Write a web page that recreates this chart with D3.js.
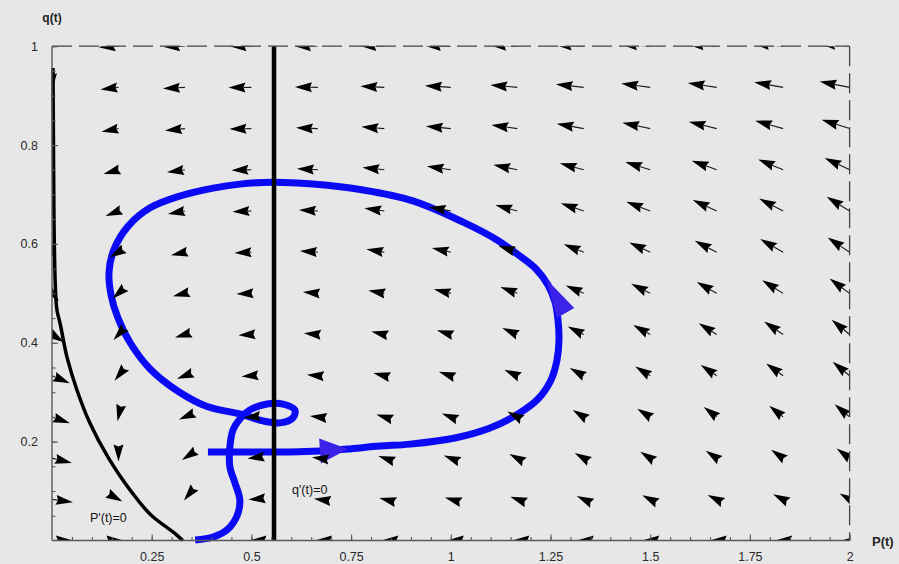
<!DOCTYPE html>
<html>
<head>
<meta charset="utf-8">
<script src="https://cdn.jsdelivr.net/npm/d3@7"></script>
<style>
  body { margin: 0; background: #e7e7e7; }
  svg { display: block; }
  text { font-family: "Liberation Sans", Arial, sans-serif; }
</style>
</head>
<body>
<svg id="chart" width="899" height="564"></svg>
<script>
// ---- data ---------------------------------------------------------------
// grid of the direction field
const pGrid = [0, 0.1667, 0.3333, 0.5, 0.6667, 0.8333, 1, 1.1667, 1.3333, 1.5, 1.6667, 1.8333, 2];
const qGrid = [0, 0.0833, 0.1667, 0.25, 0.3333, 0.4167, 0.5, 0.5833, 0.6667, 0.75, 0.8333, 0.9167, 1];

// scaled field components (hundredths of a unit), one row per qGrid value, bottom to top
const fieldDP = [
  [5.25, 1.25, 0, -0.5, -0.75, -0.75, -1, -1.25, -1.75, -2, -1.75, -2, -2],
  [5.25, 1, -0.25, -0.75, -1, -1.25, -1.5, -1.75, -1.75, -2, -2.25, -2.5, -2.5],
  [5, 0, -0.75, -1, -1.5, -1.5, -1.75, -2, -2.25, -2.5, -2.75, -3, -3.25],
  [4.5, -0.25, -1.5, -2, -2, -2, -2.25, -2.5, -2.75, -3.25, -3.25, -3.5, -3.75],
  [4.5, -1, -2, -2.5, -2.75, -2.75, -3, -3.25, -3.5, -3.75, -4, -4.25, -4.25],
  [3, -1.25, -2.5, -3.25, -3.5, -3.25, -3.5, -3.75, -4, -4.25, -4.5, -4.75, -4.5],
  [1.75, -1.5, -3, -3.75, -3.75, -4, -4.25, -4.25, -4.5, -4.75, -5, -5.25, -5],
  [1, -2.25, -3.5, -4.25, -4.5, -4.5, -4.75, -4.75, -5, -5.25, -5.5, -5.75, -5.5],
  [0.75, -3.25, -4.25, -4.75, -4.75, -5, -5.5, -5.5, -5.75, -6, -6, -6, -5.75],
  [0.5, -3.75, -4.5, -5, -5.25, -5.5, -6, -6, -6, -6.25, -6.25, -6.25, -6.25],
  [0.25, -4.25, -5, -5.5, -5.5, -5.75, -6.25, -6.5, -6.75, -7, -7, -7, -7],
  [0, -4.5, -5.5, -5.75, -5.75, -6, -6.5, -6.75, -7, -7.25, -7.25, -7.25, -7.5],
  [-0.5, -5, -5.5, -5.5, -6, -6.25, -6.75, -7, -7.25, -7.5, -7.5, -7.75, -7.75]
];
const fieldDQ = [
  [0, 0, 0, 0, 0, 0, 0, 0, 0, 0, 0, 0, 0],
  [-0.6, -0.45, -0.25, -0.05, 0.1, 0.25, 0.35, 0.5, 0.65, 0.8, 0.9, 1.05, 1.2],
  [-1.0, -0.7, -0.4, -0.1, 0.15, 0.4, 0.55, 0.85, 1.05, 1.3, 1.5, 1.7, 1.95],
  [-1.3, -0.9, -0.5, -0.15, 0.2, 0.5, 0.7, 1.1, 1.4, 1.65, 2.0, 2.25, 2.55],
  [-1.5, -1.0, -0.6, -0.15, 0.2, 0.55, 0.8, 1.2, 1.55, 1.85, 2.2, 2.5, 2.85],
  [-1.55, -1.1, -0.6, -0.15, 0.25, 0.6, 0.85, 1.3, 1.6, 1.95, 2.3, 2.65, 3.0],
  [-1.55, -1.1, -0.6, -0.15, 0.25, 0.6, 0.85, 1.3, 1.6, 1.95, 2.3, 2.65, 3.0],
  [-1.55, -1.1, -0.6, -0.15, 0.25, 0.6, 0.85, 1.3, 1.6, 1.95, 2.3, 2.65, 2.95],
  [-1.5, -1.0, -0.6, -0.15, 0.2, 0.55, 0.8, 1.2, 1.55, 1.85, 2.2, 2.5, 2.85],
  [-1.25, -0.85, -0.5, -0.1, 0.2, 0.45, 0.7, 1.0, 1.3, 1.55, 1.85, 2.1, 2.4],
  [-0.95, -0.65, -0.4, -0.1, 0.15, 0.35, 0.5, 0.75, 1.0, 1.2, 1.4, 1.6, 1.8],
  [-0.6, -0.45, -0.25, -0.05, 0.1, 0.25, 0.35, 0.5, 0.65, 0.8, 0.9, 1.05, 1.2],
  [-0.3, -0.2, -0.1, 0, 0.05, 0.1, 0.15, 0.25, 0.3, 0.4, 0.45, 0.55, 0.6]
];

// nullclines
const qNullclineP = 0.5567;                      // q'(t)=0
const pNullP = [0.0025, 0.0038, 0.005, 0.0088, 0.0125, 0.020, 0.0376, 0.0627, 0.0953, 0.140, 0.196, 0.253, 0.313, 0.328];
const pNullQ = [0.956, 0.790, 0.648, 0.505, 0.466, 0.440, 0.371, 0.304, 0.237, 0.169, 0.102, 0.048, 0.011, 0];

// trajectory
const trajP = [0.391, 0.4965, 0.597, 0.672, 0.740, 0.822, 0.898, 1.0105, 1.0983, 1.1685, 1.2187, 1.2513, 1.2663,
  1.2713, 1.2688, 1.2613, 1.2437, 1.2137, 1.174, 1.116, 1.031, 0.905, 0.780, 0.654, 0.554, 0.471, 0.404, 0.321,
  0.246, 0.191, 0.155, 0.143, 0.148, 0.165, 0.196, 0.246, 0.316, 0.389, 0.471, 0.529, 0.572, 0.604, 0.609,
  0.579, 0.539, 0.496, 0.471, 0.454, 0.446, 0.446, 0.459, 0.471, 0.464, 0.441, 0.404, 0.359];
const trajQ = [0.179, 0.179, 0.179, 0.181, 0.185, 0.191, 0.195, 0.2074, 0.2276, 0.2559, 0.2862, 0.3247, 0.3651,
  0.4056, 0.4461, 0.4825, 0.5169, 0.5493, 0.575, 0.608, 0.644, 0.687, 0.709, 0.721, 0.725, 0.721, 0.713, 0.697,
  0.673, 0.636, 0.588, 0.543, 0.497, 0.451, 0.400, 0.347, 0.302, 0.271, 0.256, 0.242, 0.238, 0.248, 0.264,
  0.276, 0.276, 0.264, 0.246, 0.224, 0.189, 0.149, 0.116, 0.082, 0.050, 0.023, 0.007, 0.001];

// direction markers on the trajectory: base centre -> tip
const markBaseP = [0.672, 1.2877];
const markBaseQ = [0.181, 0.4603];
const markTipP  = [0.742, 1.2387];
const markTipQ  = [0.185, 0.5294];

// axes
const xTicks = [0.25, 0.5, 0.75, 1, 1.25, 1.5, 1.75, 2];
const yTicks = [0.2, 0.4, 0.6, 0.8, 1];
const xMinor = d3.range(1, 41).map(k => k * 0.05);
const yMinor = d3.range(1, 21).map(k => k * 0.05);

// ---- drawing ------------------------------------------------------------
const svg = d3.select("#chart");
svg.append("rect").attr("width", 899).attr("height", 564).attr("fill", "#e7e7e7");

const x = d3.scaleLinear().domain([0, 2]).range([52, 849.6]);
const y = d3.scaleLinear().domain([0, 1]).range([540.5, 46.2]);

svg.append("defs").append("clipPath").attr("id", "plotArea")
  .append("rect")
  .attr("x", x(0)).attr("y", y(1))
  .attr("width", x(2) - x(0)).attr("height", y(0) - y(1));

// trajectory
const traj = d3.range(trajP.length).map(i => [trajP[i], trajQ[i]]);
svg.append("path")
  .attr("d", d3.line().x(d => x(d[0])).y(d => y(d[1])).curve(d3.curveCatmullRom.alpha(0.5))(traj))
  .attr("fill", "none").attr("stroke", "#0a0af5").attr("stroke-width", 7)
  .attr("stroke-linejoin", "round").attr("stroke-linecap", "butt");

// trajectory direction heads
const markHalfWidth = [12.5, 10];
markBaseP.forEach((_, i) => {
  const bx = x(markBaseP[i]), by = y(markBaseQ[i]);
  const tx = x(markTipP[i]), ty = y(markTipQ[i]);
  const L = Math.hypot(tx - bx, ty - by);
  const nx = -(ty - by) / L, ny = (tx - bx) / L;
  const w = markHalfWidth[i];
  svg.append("path")
    .attr("d", `M${tx},${ty}L${bx + nx * w},${by + ny * w}L${bx - nx * w},${by - ny * w}Z`)
    .attr("fill", "#3a22e8");
});

// nullclines
svg.append("line")
  .attr("x1", x(qNullclineP)).attr("x2", x(qNullclineP))
  .attr("y1", y(1)).attr("y2", y(0))
  .attr("stroke", "#000").attr("stroke-width", 4.5);

const pNull = d3.range(pNullP.length).map(i => [pNullP[i], pNullQ[i]]);
svg.append("path")
  .attr("d", d3.line().x(d => x(d[0])).y(d => y(d[1])).curve(d3.curveMonotoneY)(pNull))
  .attr("fill", "none").attr("stroke", "#000").attr("stroke-width", 3.5);

// direction field
const field = svg.append("g").attr("clip-path", "url(#plotArea)");
const HEAD = 17, HALF = 5, NOTCH = 15;
qGrid.forEach((q, j) => {
  pGrid.forEach((p, i) => {
    const dp = fieldDP[j][i] / 100, dq = fieldDQ[j][i] / 100;
    if (dp === 0 && dq === 0) return;
    const x0 = x(p), y0 = y(q), x1 = x(p + dp), y1 = y(q + dq);
    const L = Math.hypot(x1 - x0, y1 - y0);
    const ux = (x1 - x0) / L, uy = (y1 - y0) / L;
    const nx = -uy, ny = ux;
    const bx = x1 - ux * HEAD, by = y1 - uy * HEAD;
    const cx = x1 - ux * NOTCH, cy = y1 - uy * NOTCH;
    if (L > NOTCH) {
      field.append("line")
        .attr("x1", x0).attr("y1", y0).attr("x2", cx).attr("y2", cy)
        .attr("stroke", "#1a1a1a").attr("stroke-width", 1.1);
    }
    field.append("path")
      .attr("d", `M${x1},${y1}L${bx + nx * HALF},${by + ny * HALF}L${cx},${cy}L${bx - nx * HALF},${by - ny * HALF}Z`)
      .attr("fill", "#000");
  });
});

// frame: dashed top and right edges
const frame = svg.append("g").attr("stroke", "#444").attr("stroke-width", 1.3).attr("stroke-dasharray", "20,7");
frame.append("line").attr("x1", x(0)).attr("x2", x(2)).attr("y1", y(1)).attr("y2", y(1));
frame.append("line").attr("x1", x(2)).attr("x2", x(2)).attr("y1", y(1)).attr("y2", y(0));

// axes
const axisColor = "#5a5a5a";
function styleAxis(g) {
  g.selectAll("path.domain").attr("stroke", axisColor).attr("stroke-width", 1.4);
  g.selectAll(".tick line").attr("stroke", axisColor).attr("stroke-width", 1.1);
  g.selectAll(".tick text").attr("fill", "#2a2a2a").attr("font-size", 12.5)
    .attr("font-family", "'Liberation Sans', Arial, sans-serif");
}
svg.append("g").attr("transform", `translate(0,${y(0)})`)
  .call(d3.axisBottom(x).tickValues(xMinor).tickSize(-3.5).tickFormat("").tickSizeOuter(0))
  .call(g => g.select(".domain").remove())
  .call(styleAxis);
svg.append("g").attr("transform", `translate(${x(0)},0)`)
  .call(d3.axisLeft(y).tickValues(yMinor).tickSize(-3.5).tickFormat("").tickSizeOuter(0))
  .call(g => g.select(".domain").remove())
  .call(styleAxis);

svg.append("g").attr("transform", `translate(0,${y(0)})`)
  .call(d3.axisBottom(x).tickValues(xTicks).tickSize(-6).tickPadding(12).tickSizeOuter(0)
    .tickFormat(d => String(d)))
  .call(g => g.select(".domain").attr("d", `M${x(0)},0H${x(2)}`))
  .call(styleAxis);
svg.append("g").attr("transform", `translate(${x(0)},0)`)
  .call(d3.axisLeft(y).tickValues(yTicks).tickSize(-6).tickPadding(14).tickSizeOuter(0)
    .tickFormat(d => String(d)))
  .call(g => g.select(".domain").attr("d", `M0,${y(0)}V${y(1)}`))
  .call(styleAxis);

// axis titles
svg.append("text").attr("x", 52).attr("y", 22).attr("text-anchor", "middle")
  .attr("font-size", 12).attr("font-weight", "bold").attr("fill", "#222").text("q(t)");
svg.append("text").attr("x", 872).attr("y", 546)
  .attr("font-size", 13).attr("font-weight", "bold").attr("fill", "#222").text("P(t)");

// nullcline labels
svg.append("text").attr("x", 90).attr("y", 522)
  .attr("font-size", 12.5).attr("fill", "#111").text("P'(t)=0");
svg.append("text").attr("x", 292).attr("y", 494)
  .attr("font-size", 12.5).attr("fill", "#111").text("q'(t)=0");
</script>
</body>
</html>
